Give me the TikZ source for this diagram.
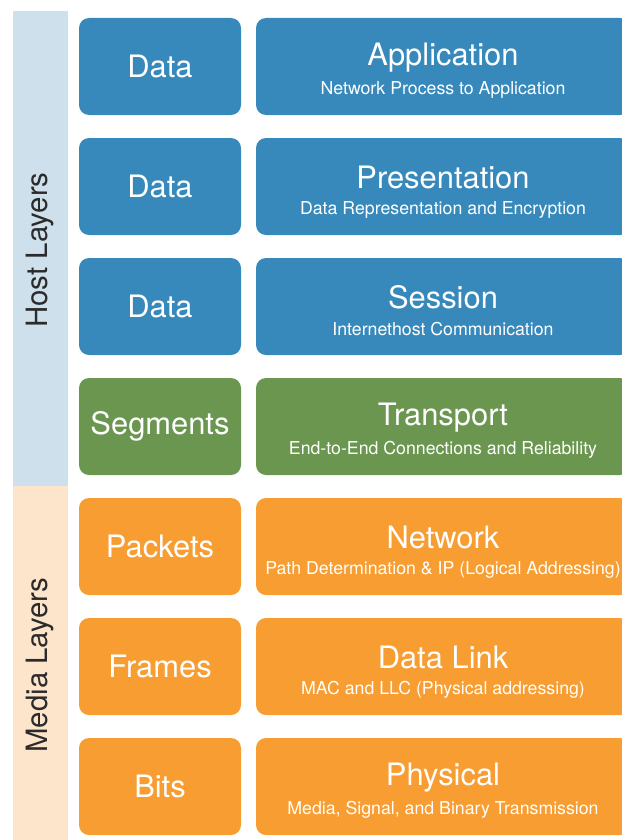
\documentclass[tikz,border=0pt]{standalone}
\usepackage{fontspec}
\setmainfont{TeX Gyre Heros}
\definecolor{layerblue}{HTML}{3789BC}
\definecolor{layergreen}{HTML}{6A9650}
\definecolor{layerorange}{HTML}{F89D31}
\definecolor{hostband}{HTML}{CDE0EB}
\definecolor{mediaband}{HTML}{FDE5CC}
\definecolor{bandtext}{HTML}{2B2B2B}
\newcommand{\bigtxt}{\fontsize{31}{35}\selectfont}
\newcommand{\sidetxt}{\fontsize{29.5}{33}\selectfont}
\newcommand{\smalltxt}{\fontsize{17.8}{21}\selectfont}
\tikzset{
  unitbox/.style={rectangle, rounded corners=10bp, minimum width=162bp, minimum height=97bp, inner sep=0pt},
  layerbox/.style={rectangle, rounded corners=10bp, minimum width=374bp, minimum height=97bp, inner sep=0pt},
  bigtext/.style={text=white, font=\bigtxt, inner sep=0pt},
  subtext/.style={text=white, font=\smalltxt, inner sep=0pt},
  bandlabel/.style={text=bandtext, font=\sidetxt, rotate=90, inner sep=0pt}
}
\begin{document}
\begin{tikzpicture}[x=1bp, y=-1bp]
            \useasboundingbox (0, 0) rectangle (622, 840);
            \begin{scope}
            \clip (0, 0) rectangle (622, 840);
            % side bands
            \fill[hostband] (13, 11) rectangle (68, 486);
            \fill[mediaband] (13, 486) rectangle (68, 840);
            \node[bandlabel] (host) at (40, 250) {Host Layers};
            \node[bandlabel] (media) at (40, 665) {Media Layers};
            % application
            \node[unitbox, fill=layerblue] (pduapp) at (160, 66.5) {};
            \node[bigtext] at (pduapp.center) {Data};
            \node[layerbox, fill=layerblue] (app) at (443, 66.5) {};
            \node[bigtext] (apptitle) at (443, 57.5) {Application};
            \node[subtext] (appsub) at (443, 89.5) {Network Process to Application};
            % presentation
            \node[unitbox, fill=layerblue] (pdupres) at (160, 186.5) {};
            \node[bigtext] at (pdupres.center) {Data};
            \node[layerbox, fill=layerblue] (pres) at (443, 186.5) {};
            \node[bigtext] (prestitle) at (443, 177.5) {Presentation};
            \node[subtext] (pressub) at (443, 209.5) {Data Representation and Encryption};
            % session
            \node[unitbox, fill=layerblue] (pdusess) at (160, 306.5) {};
            \node[bigtext] at (pdusess.center) {Data};
            \node[layerbox, fill=layerblue] (sess) at (443, 306.5) {};
            \node[bigtext] (sesstitle) at (443, 297.5) {Session};
            \node[subtext] (sesssub) at (443, 329.5) {Internethost Communication};
            % transport
            \node[unitbox, fill=layergreen] (pdutrans) at (160, 426.5) {};
            \node[bigtext] at (pdutrans.center) {Segments};
            \node[layerbox, fill=layergreen] (trans) at (443, 426.5) {};
            \node[bigtext] (transtitle) at (443, 417.5) {Transport};
            \node[subtext] (transsub) at (443, 449.5) {End-to-End Connections and Reliability};
            % network
            \node[unitbox, fill=layerorange] (pdunet) at (160, 546.5) {};
            \node[bigtext] at (pdunet.center) {Packets};
            \node[layerbox, fill=layerorange] (net) at (443, 546.5) {};
            \node[bigtext] (nettitle) at (443, 537.5) {Network};
            \node[subtext] (netsub) at (443, 569.5) {Path Determination \& IP (Logical Addressing)};
            % data link
            \node[unitbox, fill=layerorange] (pdulink) at (160, 666.5) {};
            \node[bigtext] at (pdulink.center) {Frames};
            \node[layerbox, fill=layerorange] (link) at (443, 666.5) {};
            \node[bigtext] (linktitle) at (443, 657.5) {Data Link};
            \node[subtext] (linksub) at (443, 689.5) {MAC and LLC (Physical addressing)};
            % physical
            \node[unitbox, fill=layerorange] (pduphys) at (160, 786.5) {};
            \node[bigtext] at (pduphys.center) {Bits};
            \node[layerbox, fill=layerorange] (phys) at (443, 786.5) {};
            \node[bigtext] (physititle) at (443, 777.5) {Physical};
            \node[subtext] (physsub) at (443, 809.5) {Media, Signal, and Binary Transmission};
            \end{scope}
        \end{tikzpicture}
\end{document}
